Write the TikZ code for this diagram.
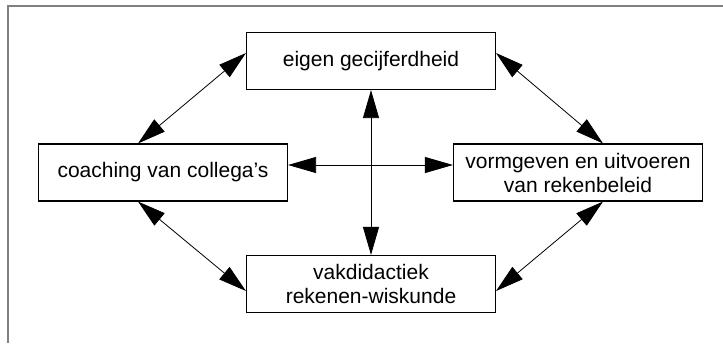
\documentclass[tikz,border=0pt]{standalone}
\usepackage{fontspec}
\setmainfont{Liberation Sans}
\usepackage{tikz}
\usetikzlibrary{arrows.meta}
\usetikzlibrary{positioning}
\usetikzlibrary{calc}
\tikzset{
  blok/.style = {draw=black, rectangle, line width=1.1pt, align=center,
    minimum width=249pt, minimum height=57pt, inner sep=0pt,
    font=\fontsize{21}{24}\selectfont},% blok met tekst
  pijl/.style = {<->, line width=0.8pt,
    >={Triangle[length=28pt,width=16pt]}},% dubbele pijl
  kader/.style = {draw=gray, line width=1.4pt}% buitenrand
}

\begin{document}
\begin{tikzpicture}[x=1pt,y=-1pt]
\useasboundingbox (0,0) rectangle (723,343);
\draw[kader] (8,343) -- (8,6) -- (723,6);

\node [blok] (eigen) at (371,61) {eigen gecijferdheid};
\node [blok] (coach) at (163,172.5) {coaching van collega's};
\node [blok] (beleid) at (578,172.5) {vormgeven en uitvoeren\\van rekenbeleid};
\node [blok] (vakdid) at (371,284) {vakdidactiek\\rekenen-wiskunde};

\coordinate (CL) at ([yshift=7.5pt]coach.east);
\coordinate (BL) at ([yshift=7.5pt]beleid.west);

%\draw[pijl] (coach) -- (beleid);
\draw[pijl] (eigen) -- (vakdid);
\draw[pijl] (CL) -- (BL);
\draw[pijl] ([xshift=-25pt]coach.north) -- ([yshift=8pt]eigen.west);
\draw[pijl] ([yshift=8pt]eigen.east) -- ([xshift=25pt]beleid.north);
\draw[pijl] ([xshift=25pt]beleid.south) -- ([yshift=-7pt]vakdid.east);
\draw[pijl] ([xshift=-25pt]coach.south) -- ([yshift=-7pt]vakdid.west);
\end{tikzpicture}
\end{document}
